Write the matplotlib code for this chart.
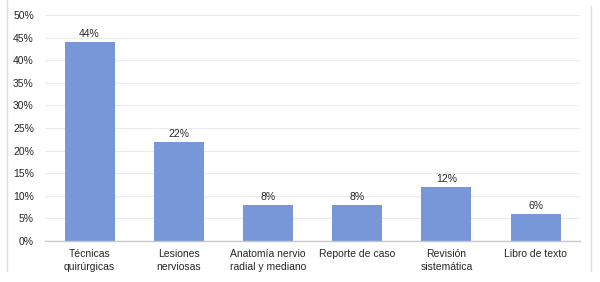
import matplotlib.pyplot as plt
from matplotlib.lines import Line2D
from matplotlib.ticker import PercentFormatter

plt.rcParams['font.family'] = ['Liberation Sans', 'DejaVu Sans']

categories = ["Técnicas\nquirúrgicas", "Lesiones\nnerviosas", "Anatomía nervio\nradial y mediano",
              "Reporte de caso", "Revisión\nsistemática", "Libro de texto"]
values = [44, 22, 8, 8, 12, 6]
bar_labels = ["44%", "22%", "8%", "8%", "12%", "6%"]

BAR = "#7797d8"
TEXT = "#262626"

fig = plt.figure(figsize=(6, 2.82), dpi=100)
ax = fig.add_axes([0.075, 0.145, 0.892, 0.802])

x = range(len(categories))
bars = ax.bar(x, values, width=0.56, color=BAR, zorder=2)
for bar, lab in zip(bars, bar_labels):
    ax.text(bar.get_x() + bar.get_width() / 2, bar.get_height() + 0.6, lab,
            ha="center", va="bottom", fontsize=7.5, color=TEXT)

ax.set_xlim(-0.5, len(categories) - 0.5)
ax.set_ylim(0, 50)
ax.set_yticks(range(0, 51, 5))
ax.yaxis.set_major_formatter(PercentFormatter(decimals=0))
ax.set_xticks(list(x))
ax.set_xticklabels(categories, fontsize=7.5, color=TEXT, linespacing=1.3)
ax.tick_params(axis="y", labelsize=7.5, labelcolor=TEXT, length=0, pad=8)
ax.tick_params(axis="x", length=0, pad=6)
ax.grid(axis="y", color="#ebebeb", linewidth=0.8, zorder=0)
for s in ["top", "right", "left"]:
    ax.spines[s].set_visible(False)
ax.spines["bottom"].set_color("#c8c8c8")
ax.spines["bottom"].set_linewidth(1)

# outer frame lines
fig.add_artist(Line2D([0.012, 0.012], [0.04, 1.0], color="#dcdcdc", linewidth=1))
fig.add_artist(Line2D([0.985, 0.985], [0.04, 0.98], color="#dcdcdc", linewidth=1))

fig.savefig("out.png", dpi=100)
